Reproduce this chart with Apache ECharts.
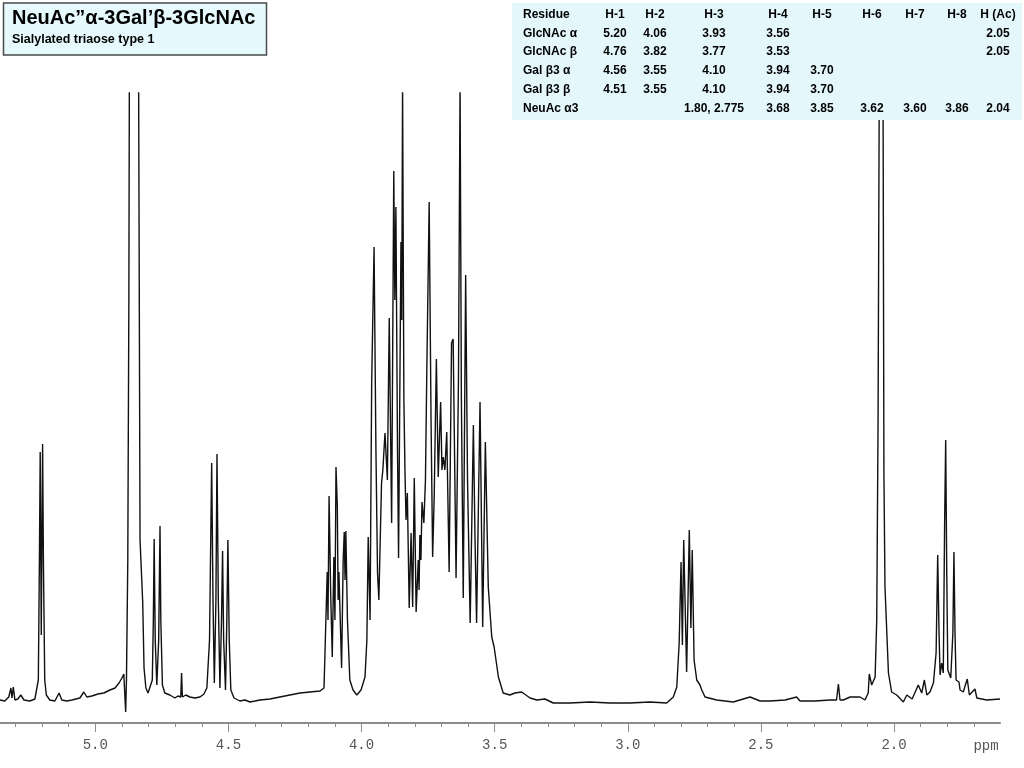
<!DOCTYPE html>
<html>
<head>
<meta charset="utf-8">
<script src="https://cdn.jsdelivr.net/npm/echarts@6/dist/echarts.min.js"></script>
<style>
html,body{margin:0;padding:0;background:#fff;}
#chart{width:1024px;height:768px;}
</style>
</head>
<body>
<div id="chart"></div>
<script>
// Chemical shift (ppm) and intensity
const shift = [
5.358,5.340,5.325,5.317,5.313,5.308,5.302,5.291,5.280,5.268,5.246,5.227,5.214,5.210,5.207,5.203,5.198,5.195,5.190,5.184,
5.171,5.152,5.136,5.126,5.107,5.088,5.058,5.043,5.032,5.013,4.990,4.968,4.945,4.926,4.911,4.900,4.893,4.886,4.883,4.878,
4.874,4.870,4.866,4.855,4.844,4.838,4.832,4.822,4.817,4.810,4.802,4.795,4.786,4.782,4.779,4.775,4.769,4.762,4.757,4.754,
4.748,4.739,4.720,4.701,4.690,4.679,4.676,4.673,4.660,4.645,4.626,4.607,4.592,4.581,4.571,4.563,4.558,4.553,4.547,4.543,
4.538,4.532,4.526,4.522,4.518,4.511,4.506,4.502,4.497,4.491,4.479,4.457,4.438,4.419,4.400,4.382,4.344,4.307,4.269,4.231,
4.194,4.156,4.141,4.136,4.129,4.126,4.122,4.116,4.110,4.104,4.100,4.096,4.091,4.088,4.085,4.075,4.069,4.065,4.062,4.059,
4.053,4.044,4.032,4.018,4.002,3.987,3.980,3.975,3.968,3.962,3.953,3.946,3.940,3.935,3.925,3.920,3.912,3.903,3.896,3.887,
3.879,3.875,3.871,3.865,3.861,3.852,3.849,3.846,3.841,3.837,3.833,3.828,3.821,3.814,3.808,3.802,3.795,3.787,3.784,3.781,
3.777,3.773,3.766,3.760,3.755,3.746,3.739,3.733,3.727,3.719,3.712,3.703,3.698,3.693,3.687,3.680,3.671,3.662,3.656,3.645,
3.636,3.630,3.625,3.618,3.609,3.602,3.592,3.580,3.574,3.568,3.555,3.545,3.535,3.524,3.511,3.502,3.486,3.468,3.461,3.443,
3.424,3.399,3.367,3.342,3.311,3.280,3.217,3.142,3.067,2.992,2.917,2.854,2.829,2.816,2.807,2.800,2.795,2.790,2.779,2.769,
2.763,2.758,2.751,2.741,2.729,2.722,2.710,2.666,2.604,2.541,2.503,2.466,2.409,2.366,2.353,2.297,2.240,2.216,2.209,2.203,
2.190,2.165,2.128,2.109,2.097,2.093,2.084,2.071,2.065,2.060,2.056,2.049,2.041,2.038,2.034,2.021,2.009,1.990,1.965,1.952,
1.932,1.909,1.896,1.886,1.877,1.865,1.852,1.842,1.836,1.831,1.827,1.821,1.815,1.810,1.806,1.802,1.798,1.787,1.779,1.775,
1.771,1.767,1.756,1.752,1.740,1.725,1.717,1.696,1.689,1.652,1.602
];
const intensity = [
23,22,26,35,25,36,23,24,28,23,22,24,43,163,271,88,279,163,43,28,
23,22,30,23,22,23,25,31,26,27,29,30,33,35,40,45,49,11,43,163,
423,900,1100,1400,1100,700,183,121,55,35,30,29,43,103,184,83,38,83,197,103,
38,30,28,25,27,26,50,26,28,26,25,26,29,35,83,260,123,40,123,269,
123,35,103,172,83,33,103,183,83,33,25,22,23,21,22,23,24,26,28,30,
31,32,35,83,151,103,227,130,66,166,103,256,216,123,151,55,163,191,143,192,
103,43,33,28,33,46,83,186,103,340,476,273,150,123,240,253,290,243,405,200,
552,423,516,273,165,481,403,640,323,253,203,230,115,190,116,245,111,163,133,188,
163,221,200,243,350,521,303,166,228,364,246,321,253,266,253,291,151,380,384,145,
343,640,323,125,448,243,100,298,186,100,321,96,281,136,86,76,46,30,31,28,
30,31,25,23,24,20,20,21,20,20,21,20,26,36,80,161,78,183,51,193,
95,173,63,43,38,33,26,23,21,26,22,22,23,26,22,22,23,23,39,23,
23,26,26,23,30,49,38,46,103,300,600,900,600,250,136,50,31,28,21,28,
24,38,30,43,28,31,40,70,168,90,48,60,50,200,283,150,53,45,90,171,
90,43,41,33,31,44,28,34,25,23,24
];
const majorTicks = [5.0, 4.5, 4.0, 3.5, 3.0, 2.5, 2.0];
const minorTicks = [5.3,5.2,5.1,4.9,4.8,4.7,4.6,4.4,4.3,4.2,4.1,3.9,3.8,3.7,3.6,3.4,3.3,3.2,3.1,2.9,2.8,2.7,2.6,2.4,2.3,2.2,2.1,1.9,1.8,1.7];
const axisUnit = 'ppm';
const titleText = 'NeuAc\u201D\u03B1-3Gal\u2019\u03B2-3GlcNAc';
const subtitleText = 'Sialylated triaose type 1';
const tableHeader = ['Residue','H-1','H-2','H-3','H-4','H-5','H-6','H-7','H-8','H (Ac)'];
const tableRows = [
  ['GlcNAc \u03B1','5.20','4.06','3.93','3.56','','','','','2.05'],
  ['GlcNAc \u03B2','4.76','3.82','3.77','3.53','','','','','2.05'],
  ['Gal \u03B23 \u03B1','4.56','3.55','4.10','3.94','3.70','','','',''],
  ['Gal \u03B23 \u03B2','4.51','3.55','4.10','3.94','3.70','','','',''],
  ['NeuAc \u03B13','','','1.80, 2.775','3.68','3.85','3.62','3.60','3.86','2.04']
];

const data = shift.map((s, i) => [s, intensity[i]]);

// layout
const colX = [523, 615, 655, 714, 778, 822, 872, 915, 957, 998];
const rowY = [15, 33.5, 52, 70.7, 89.3, 108.3];
const tableFont = 'bold 12px "Liberation Sans", Arial, sans-serif';

const graphics = [
  { type: 'rect', z: 100, shape: { x: 3.5, y: 3, width: 263, height: 52 },
    style: { fill: '#e6fafd', stroke: '#4a4a4a', lineWidth: 1.5 } },
  { type: 'text', z: 101, x: 12, y: 28, style: { text: titleText, font: 'bold 20px "Liberation Sans", Arial, sans-serif', fill: '#000', textVerticalAlign: 'bottom' } },
  { type: 'text', z: 101, x: 12, y: 46, style: { text: subtitleText, font: 'bold 12.5px "Liberation Sans", Arial, sans-serif', fill: '#000', textVerticalAlign: 'bottom' } },
  { type: 'rect', z: 100, shape: { x: 512, y: 3, width: 510, height: 117 }, style: { fill: '#e4f8fc' } },
  { type: 'text', z: 101, x: 986, y: 746, style: { text: axisUnit, font: '14px "Liberation Mono", "DejaVu Sans Mono", monospace', fill: '#555', textAlign: 'center', textVerticalAlign: 'middle' } }
];
const allRows = [tableHeader].concat(tableRows);
allRows.forEach((row, r) => {
  row.forEach((cell, c) => {
    if (!cell) return;
    graphics.push({ type: 'text', z: 101, x: colX[c], y: rowY[r],
      style: { text: cell, font: tableFont, fill: '#000', textAlign: c === 0 ? 'left' : 'center', textVerticalAlign: 'middle' } });
  });
});

const chart = echarts.init(document.getElementById('chart'));
chart.setOption({
  animation: false,
  backgroundColor: '#fff',
  grid: { left: 0, right: 24, top: 93, bottom: 45, containLabel: false },
  xAxis: [
    { type: 'value', min: 1.602, max: 5.358, inverse: true, position: 'bottom',
      splitLine: { show: false },
      axisLine: { show: true, lineStyle: { color: '#8c8c8c', width: 2 } },
      axisTick: { show: true, customValues: majorTicks, length: 9, lineStyle: { color: '#8c8c8c', width: 1 } },
      axisLabel: { show: true, customValues: majorTicks, margin: 15, color: '#555',
        fontFamily: '"Liberation Mono", "DejaVu Sans Mono", monospace', fontSize: 14,
        formatter: v => v.toFixed(1) } },
    { type: 'value', min: 1.602, max: 5.358, inverse: true, position: 'bottom',
      splitLine: { show: false },
      axisLine: { show: false },
      axisTick: { show: true, customValues: minorTicks, length: 4, lineStyle: { color: '#8c8c8c', width: 1 } },
      axisLabel: { show: false } }
  ],
  yAxis: { type: 'value', min: 0, max: 630, show: false, splitLine: { show: false } },
  series: [{
    type: 'line', data: data, xAxisIndex: 0, showSymbol: false, symbol: 'none',
    clip: true, smooth: false,
    lineStyle: { color: '#111', width: 1.4 }
  }],
  graphic: graphics
});
</script>
</body>
</html>
